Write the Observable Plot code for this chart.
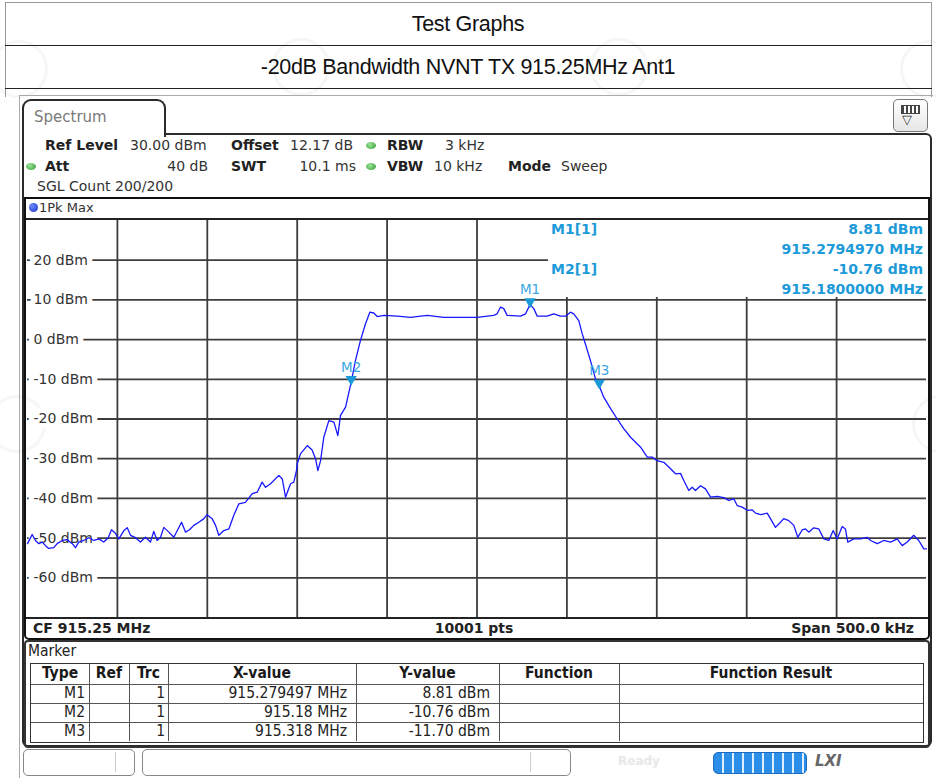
<!DOCTYPE html>
<html><head><meta charset="utf-8">
<script src="https://cdn.jsdelivr.net/npm/d3@7"></script>
<script src="https://cdn.jsdelivr.net/npm/@observablehq/plot@0.6"></script>
<style>
body{margin:0;background:#fff;}
#page{position:relative;width:936px;height:778px;overflow:hidden;font-family:"Liberation Sans",Arial,sans-serif;background:#fff;}
.a{position:absolute;}
.rs{font-family:"DejaVu Sans",Verdana,sans-serif;font-size:14px;color:#333;white-space:nowrap;line-height:16px;}
.b{font-weight:bold;color:#222;}
.gdot{position:absolute;width:10px;height:7px;border-radius:50%;background:radial-gradient(circle at 40% 35%,#9be39b,#2f9b2f);}
.cell{position:absolute;font-family:"DejaVu Sans Condensed","DejaVu Sans",sans-serif;font-size:15.5px;color:#222;white-space:nowrap;line-height:19px;}
.ro{position:absolute;font-family:"DejaVu Sans",sans-serif;font-weight:bold;font-size:14px;color:#1d9ad8;white-space:nowrap;line-height:16px;}
.wm{position:absolute;width:52px;height:52px;border-radius:50%;border:3px solid rgba(150,150,150,0.09);}
</style></head><body>
<div id="page">
  <!-- faint watermarks -->
  <div class="wm" style="left:-10px;top:40px;"></div>
  <div class="wm" style="left:272px;top:38px;"></div>
  <div class="wm" style="left:590px;top:38px;"></div>
  <div class="wm" style="left:900px;top:40px;"></div>
  <div class="wm" style="left:-12px;top:395px;"></div>
  <div class="wm" style="left:912px;top:395px;"></div>
  <!-- document header -->
  <div class="a" style="left:5px;top:2px;width:926px;height:1px;background:#999"></div>
  <div class="a" style="left:5px;top:2px;width:1px;height:95px;background:#999"></div>
  <div class="a" style="left:931px;top:2px;width:1px;height:95px;background:#999"></div>
  <div class="a" style="left:5px;top:45px;width:927px;height:1px;background:#222"></div>
  <div class="a" style="left:5px;top:88px;width:927px;height:1px;background:#222"></div>
  <div class="a" style="left:0;top:12px;width:936px;text-align:center;font-size:21.5px;color:#111;letter-spacing:-0.3px;">Test Graphs</div>
  <div class="a" style="left:0;top:55px;width:936px;text-align:center;font-size:21.5px;color:#111;letter-spacing:-0.3px;">-20dB Bandwidth NVNT TX 915.25MHz Ant1</div>

  <!-- screenshot frame -->
  <div class="a" style="left:19px;top:95px;width:914px;height:1px;background:#aaa"></div>
  <div class="a" style="left:19px;top:95px;width:1px;height:683px;background:#aaa"></div>
  <div class="a" style="left:22px;top:133px;width:906px;height:610px;border:2px solid #2a2a2a;border-radius:0 6px 6px 6px;"></div>
  <div class="a" style="left:22px;top:99px;width:140px;height:36px;border:2px solid #2a2a2a;border-bottom:none;border-radius:9px 9px 0 0;background:#fff;"></div>
  <div class="a rs" style="left:34px;top:108px;font-size:15px;color:#7a7a7a;line-height:18px;">Spectrum</div>
  <div class="a" style="left:893px;top:99px;width:33px;height:31px;border:1.5px solid #777;border-radius:5px;background:linear-gradient(#fff,#e6e6e6);"></div>
  <div class="a" style="left:901px;top:105px;width:17px;height:7px;border:1.5px solid #444;background:repeating-linear-gradient(90deg,#444 0 2px,#fff 2px 4px);"></div>
  <div class="a" style="left:902px;top:112px;font-size:13px;color:#333;">▽</div>

  <!-- settings rows -->
  <div class="a rs b" style="left:45px;top:137px;">Ref Level</div>
  <div class="a rs" style="left:130px;top:137px;">30.00 dBm</div>
  <div class="a rs b" style="left:231px;top:137px;">Offset</div>
  <div class="a rs" style="left:290px;top:137px;">12.17 dB</div>
  <div class="gdot" style="left:366px;top:142px;"></div>
  <div class="a rs b" style="left:387px;top:137px;">RBW</div>
  <div class="a rs" style="left:445px;top:137px;">3 kHz</div>

  <div class="gdot" style="left:26px;top:163px;"></div>
  <div class="a rs b" style="left:45px;top:158px;">Att</div>
  <div class="a rs" style="left:130px;top:158px;width:78px;text-align:right;">40 dB</div>
  <div class="a rs b" style="left:231px;top:158px;">SWT</div>
  <div class="a rs" style="left:280px;top:158px;width:76px;text-align:right;">10.1 ms</div>
  <div class="gdot" style="left:366px;top:163px;"></div>
  <div class="a rs b" style="left:387px;top:158px;">VBW</div>
  <div class="a rs" style="left:434px;top:158px;">10 kHz</div>
  <div class="a rs b" style="left:508px;top:158px;">Mode</div>
  <div class="a rs" style="left:561px;top:158px;">Sweep</div>
  <div class="a rs" style="left:37px;top:178px;">SGL Count 200/200</div>

  <!-- plot box -->
  <div class="a" style="left:24px;top:197px;width:902px;height:439px;border:2px solid #111;border-radius:0 0 5px 5px;"></div>
  <div class="a" style="left:29px;top:203px;width:9px;height:9px;border-radius:50%;background:radial-gradient(circle at 35% 35%,#6f8cff,#1430c8);"></div>
  <div class="a rs" style="left:39px;top:200px;font-size:13px;">1Pk Max</div>
  <div class="a" style="left:26px;top:218px;width:902px;height:2px;background:#222"></div>
  <div class="a" style="left:26px;top:617px;width:902px;height:2px;background:#222"></div>
  <div class="a rs b" style="left:33px;top:620px;">CF 915.25 MHz</div>
  <div class="a rs b" style="left:374px;top:620px;width:200px;text-align:center;">10001 pts</div>
  <div class="a rs b" style="left:700px;top:620px;width:214px;text-align:right;">Span 500.0 kHz</div>

  <div id="chart" class="a" style="left:27px;top:220px;width:899px;height:397px;"></div>

  <!-- marker readout -->
  <div class="a" style="left:548px;top:220px;width:378px;height:77px;background:#fff;"></div>
  <div class="ro" style="left:551px;top:221px;">M1[1]</div>
  <div class="ro" style="left:640px;top:221px;width:283px;text-align:right;">8.81 dBm</div>
  <div class="ro" style="left:640px;top:241px;width:283px;text-align:right;">915.2794970 MHz</div>
  <div class="ro" style="left:551px;top:261px;">M2[1]</div>
  <div class="ro" style="left:640px;top:261px;width:283px;text-align:right;">-10.76 dBm</div>
  <div class="ro" style="left:640px;top:281px;width:283px;text-align:right;">915.1800000 MHz</div>

  <!-- marker table -->
  <div class="a" style="left:24px;top:640px;width:902px;height:104px;border:2px solid #333;border-radius:4px;"></div>
  <div class="cell" style="left:28px;top:642px;">Marker</div>
  <div id="tbl" class="a" style="left:30px;top:663px;width:892px;height:78px;border:1px solid #333;"></div>

  <!-- status bar -->
  <div class="a" style="left:23px;top:749px;width:110px;height:25px;border:1px solid #888;border-radius:5px;"></div>
  <div class="a" style="left:142px;top:749px;width:427px;height:25px;border:1px solid #888;border-radius:5px;"></div>
  <div class="a" style="left:530px;top:752px;width:1px;height:20px;background:#ccc"></div>
  <div class="a" style="left:115px;top:752px;width:1px;height:20px;background:#ccc"></div>
  <div class="a" style="left:618px;top:754px;font-family:'DejaVu Sans';font-weight:bold;font-size:12px;color:#e8e8e8;">Ready</div>
  <div class="a" style="left:713px;top:752px;width:92px;height:20px;border-radius:5px;background:repeating-linear-gradient(90deg,#2b8ee8 0 8px,#dfefff 8px 10px);border:1px solid #1a6cc0;"></div>
  <div class="a" style="left:815px;top:752px;font-family:'DejaVu Sans';font-weight:bold;font-style:italic;font-size:15px;color:#666;">LXI</div>
</div>
<script>
// ---- data ----
const freqMHz = [
915.0000,915.0026,915.0044,915.0063,915.0082,915.0100,915.0118,915.0146,915.0165,915.0193,
915.0221,915.0249,915.0267,915.0285,915.0313,915.0341,915.0369,915.0397,915.0424,915.0449,
915.0467,915.0489,915.0508,915.0536,915.0555,915.0573,915.0601,915.0628,915.0656,915.0684,
915.0702,915.0721,915.0740,915.0758,915.0786,915.0814,915.0833,915.0857,915.0879,915.0901,
915.0925,915.0953,915.0981,915.0999,915.1027,915.1046,915.1064,915.1092,915.1120,915.1147,
915.1175,915.1212,915.1250,915.1278,915.1305,915.1324,915.1352,915.1398,915.1417,915.1435,
915.1463,915.1481,915.1496,915.1500,915.1518,915.1556,915.1583,915.1602,915.1615,915.1630,
915.1648,915.1676,915.1704,915.1726,915.1741,915.1769,915.1800,915.1824,915.1852,915.1880,
915.1904,915.1926,915.1945,915.1982,915.2056,915.2130,915.2223,915.2315,915.2408,915.2501,
915.2593,915.2612,915.2631,915.2649,915.2668,915.2742,915.2770,915.279497,915.2816,915.2835,
915.2890,915.2927,915.2964,915.2992,915.3020,915.3038,915.3066,915.3085,915.3103,915.3131,
915.3159,915.3180,915.3205,915.3243,915.3280,915.3317,915.3354,915.3410,915.3447,915.3474,
915.3502,915.3539,915.3567,915.3604,915.3632,915.3650,915.3678,915.3697,915.3715,915.3743,
915.3771,915.3799,915.3836,915.3873,915.3900,915.3928,915.3947,915.3975,915.4003,915.4031,
915.4049,915.4077,915.4114,915.4132,915.4160,915.4188,915.4206,915.4234,915.4262,915.4284,
915.4309,915.4327,915.4345,915.4373,915.4401,915.4429,915.4457,915.4481,915.4503,915.4531,
915.4549,915.4562,915.4596,915.4633,915.4670,915.4689,915.4726,915.4763,915.4800,915.4837,
915.4865,915.4893,915.4929,915.4957,915.4985,915.5000];
const levelDbm = [
-51.4,-49.1,-50.6,-51.4,-51.0,-51.9,-52.6,-52.4,-51.4,-50.6,
-50.4,-51.4,-52.4,-51.0,-50.6,-49.9,-50.6,-50.2,-51.0,-49.9,
-47.9,-48.8,-50.2,-48.1,-47.4,-49.3,-49.9,-51.0,-49.8,-51.0,
-48.3,-50.6,-49.8,-47.3,-48.5,-49.8,-48.1,-46.0,-48.5,-47.9,
-46.8,-46.0,-45.1,-44.1,-45.1,-46.8,-49.3,-48.1,-47.7,-44.3,
-41.4,-41.0,-38.8,-38.4,-35.9,-37.2,-36.3,-34.2,-35.1,-39.7,
-36.3,-35.9,-33.0,-31.3,-28.8,-26.7,-27.8,-30.0,-33.0,-30.5,
-24.6,-20.4,-20.8,-24.2,-19.1,-17.0,-10.76,-5.3,-0.2,4.0,
6.9,6.7,5.8,6.1,5.9,5.6,6.1,5.6,5.6,5.6,
6.1,6.5,8.2,7.8,6.1,5.9,6.5,8.81,7.8,5.9,
5.9,6.5,5.9,5.9,6.9,6.5,4.8,1.5,-1.1,-5.3,
-9.9,-11.7,-14.5,-17.4,-20.0,-22.5,-24.6,-27.1,-29.6,-29.6,
-30.5,-30.9,-32.1,-33.8,-33.7,-35.5,-38.0,-37.2,-38.0,-36.8,
-37.6,-39.7,-39.5,-39.8,-40.5,-40.1,-41.8,-42.2,-43.0,-42.9,
-43.7,-44.1,-43.7,-45.1,-47.3,-46.0,-45.1,-45.6,-46.8,-49.8,
-47.9,-47.7,-48.5,-47.4,-47.7,-50.2,-50.6,-48.1,-50.2,-47.1,
-47.7,-51.0,-50.2,-50.2,-49.8,-50.6,-51.4,-50.6,-51.0,-50.2,
-51.9,-51.0,-49.3,-50.6,-52.7,-52.7];
const markerNames = ["M1","M2","M3"];
const markerFreq = [915.279497, 915.18, 915.318];
const markerLevel = [8.81, -10.76, -11.70];
const markerXText = ["915.279497 MHz","915.18 MHz","915.318 MHz"];
const markerYText = ["8.81 dBm","-10.76 dBm","-11.70 dBm"];
const yTicks = [20,10,0,-10,-20,-30,-40,-50,-60];
const xGrid = [915.05,915.10,915.15,915.20,915.25,915.30,915.35,915.40,915.45];
const xDomain = [915.0, 915.5];
const yDomain = [-70, 30];
const tableHeaders = ["Type","Ref","Trc","X-value","Y-value","Function","Function Result"];

// ---- chart ----
const n = Math.min(freqMHz.length, levelDbm.length);
const trace = d3.range(n).map(i => ({f: freqMHz[i], L: levelDbm[i]}));
const markers = markerNames.map((m, i) => ({m, f: markerFreq[i], L: markerLevel[i]}));

const chart = Plot.plot({
  width: 899, height: 397, margin: 0,
  x: {domain: xDomain, axis: null},
  y: {domain: yDomain, axis: null},
  style: {background: "transparent", overflow: "visible"},
  marks: [
    Plot.ruleX(xGrid, {stroke: "#3d3d3d", strokeWidth: 1.8}),
    Plot.ruleY(yTicks, {stroke: "#3d3d3d", strokeWidth: 1.8}),
    Plot.text(yTicks, {y: d => d, frameAnchor: "left", dx: 6, textAnchor: "start",
      text: d => `${d} dBm`, fill: "#333", stroke: "white", strokeWidth: 11, paintOrder: "stroke",
      fontSize: 14, fontFamily: "DejaVu Sans"}),
    Plot.line(trace, {x: "f", y: "L", stroke: "#1818ff", strokeWidth: 1.3}),
    Plot.dot(markers, {x: "f", y: "L", symbol: "triangle", rotate: 180, r: 4.2, fill: "#1c9ad8", dy: -3}),
    Plot.text(markers, {x: "f", y: "L", text: "m", dy: -15, fill: "#3aa7e2", fontSize: 13.5, fontFamily: "DejaVu Sans"})
  ]
});
document.getElementById("chart").appendChild(chart);

// ---- marker table ----
const tbl = document.getElementById("tbl");
const colX = [0, 58, 98, 137, 325, 468, 588, 892]; // column boundaries relative to table
const padR = [4, 4, 3, 9, 9, 4, 4];
const rowY = [0, 20, 39, 58, 78];
for (let c = 1; c < colX.length - 1; c++) {
  const v = document.createElement("div");
  v.className = "a"; v.style.cssText = `left:${colX[c]}px;top:0;width:1px;height:77px;background:#555`;
  tbl.appendChild(v);
}
for (let r = 1; r < rowY.length - 1; r++) {
  const h = document.createElement("div");
  h.className = "a"; h.style.cssText = `left:0;top:${rowY[r]}px;width:892px;height:1px;background:#555`;
  tbl.appendChild(h);
}
tableHeaders.forEach((t, c) => {
  const d = document.createElement("div");
  d.className = "cell";
  d.style.cssText = `left:${colX[c]}px;top:${rowY[0]}px;width:${colX[c+1]-colX[c]}px;text-align:center;font-weight:bold;color:#1a1a1a;`;
  d.textContent = t; tbl.appendChild(d);
});
markerNames.forEach((m, r) => {
  const vals = [m, "", "1", markerXText[r], markerYText[r], "", ""];
  vals.forEach((t, c) => {
    if (!t) return;
    const d = document.createElement("div");
    d.className = "cell";
    d.style.cssText = `left:${colX[c]}px;top:${rowY[r+1]}px;width:${colX[c+1]-colX[c]-padR[c]}px;text-align:right;`;
    d.textContent = t; tbl.appendChild(d);
  });
});
</script>
</body></html>
